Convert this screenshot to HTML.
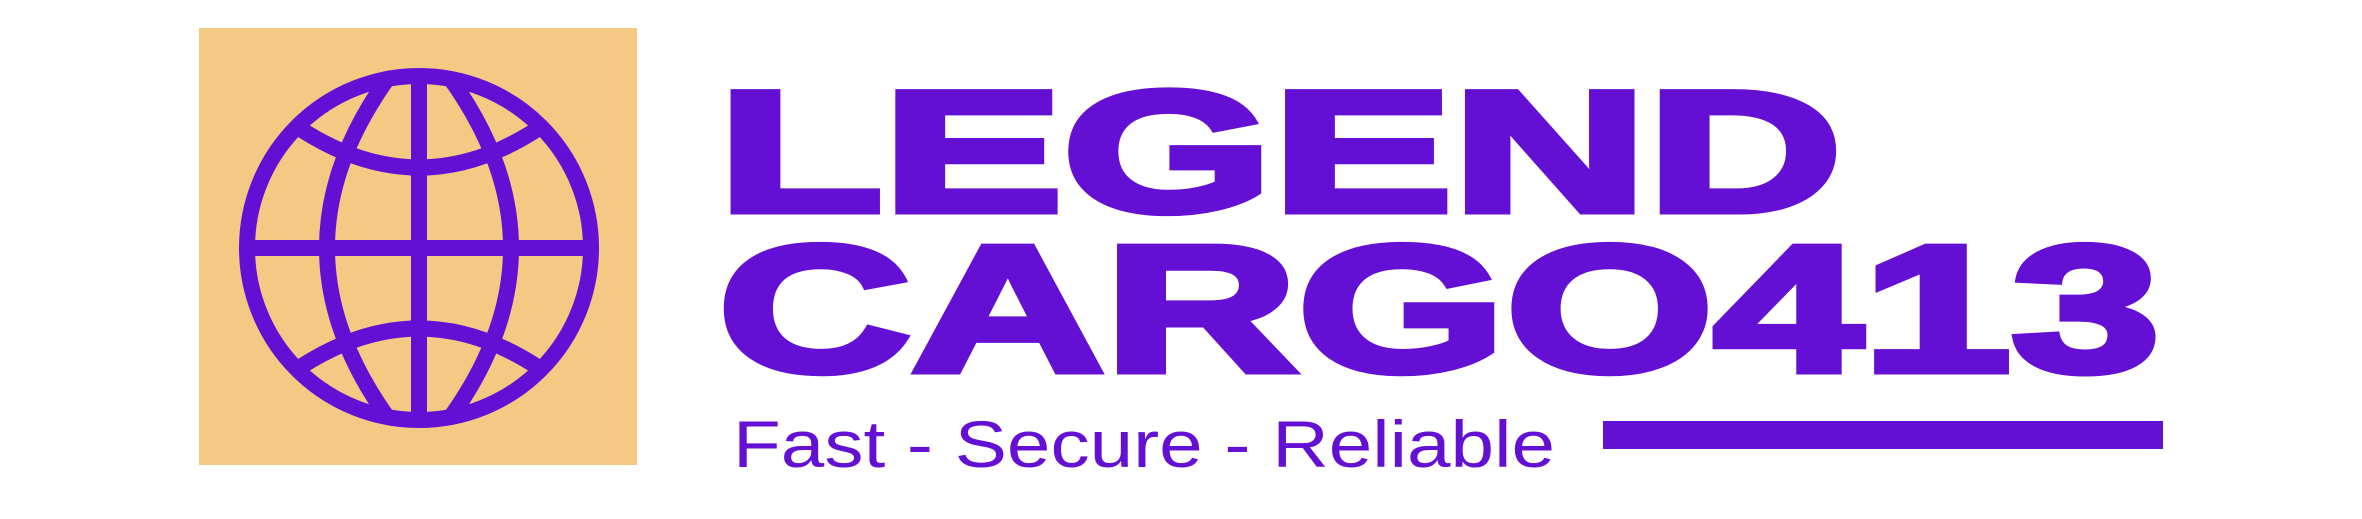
<!DOCTYPE html>
<html><head><meta charset="utf-8"><style>
html,body{margin:0;padding:0;background:#fff;width:2362px;height:519px;overflow:hidden}
svg{display:block}
</style></head><body>
<svg width="2362" height="519" viewBox="0 0 2362 519">
  <rect x="199" y="28" width="438" height="437" fill="#F5C983"/>
  <g fill="none" stroke="#6410D4" stroke-width="16">
    <circle cx="419" cy="248" r="172"/>
    <line x1="247" y1="248" x2="591" y2="248"/>
    <line x1="419" y1="76" x2="419" y2="420"/>
    <path d="M388 78 Q266 248 388 418"/>
    <path d="M450 78 Q572 248 450 418"/>
    <path d="M302 130 Q419 205 536 130"/>
    <path d="M302 366 Q419 291 536 366"/>
  </g>
  <g fill="#6410D4" stroke="#6410D4" stroke-width="7" stroke-linejoin="miter" font-family="'Liberation Sans', sans-serif" font-weight="bold">
    <text x="718" y="211" font-size="172" textLength="1124" lengthAdjust="spacingAndGlyphs">LEGEND</text>
    <text x="718" y="371" font-size="180" textLength="1442" lengthAdjust="spacingAndGlyphs">CARGO413</text>
  </g>
  <text x="733" y="467" fill="#6410D4" font-family="'Liberation Sans', sans-serif" font-size="66" textLength="822" lengthAdjust="spacingAndGlyphs">Fast - Secure - Reliable</text>
  <rect x="1603" y="421" width="560" height="28" fill="#6410D4"/>
</svg>
</body></html>
